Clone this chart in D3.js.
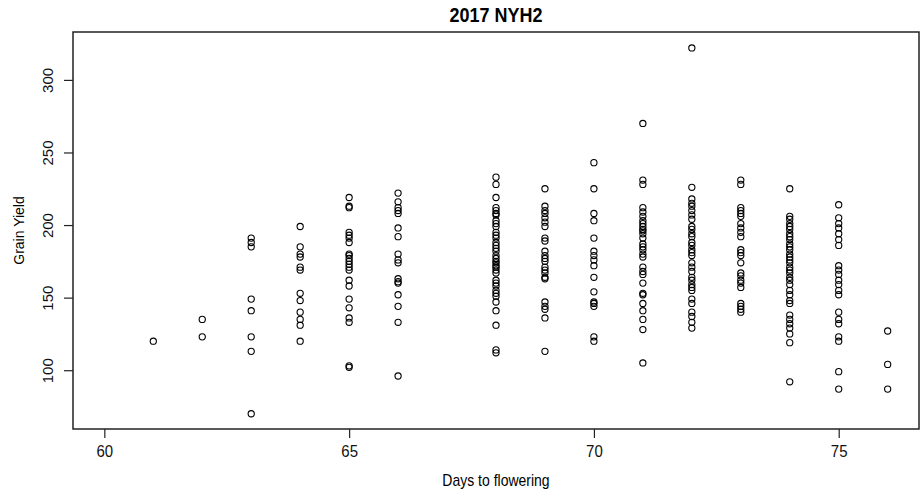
<!DOCTYPE html>
<html>
<head>
<meta charset="utf-8">
<script src="https://cdn.jsdelivr.net/npm/d3@7"></script>
<style>
  body { margin: 0; background: #fff; }
  svg { display: block; font-family: "Liberation Sans", Arial, sans-serif; }
</style>
</head>
<body>
<svg id="chart" width="923" height="490"></svg>
<script>
// days to flowering (x categories)
const days = [61, 62, 63, 64, 65, 66, 68, 69, 70, 71, 72, 73, 74, 75, 76];

// grain yield for each day, same order as days
const yields = [
  [120],
  [135, 123],
  [191, 188, 185, 149, 141, 123, 113, 70],
  [199, 185, 180, 178, 171, 169, 153, 148, 140, 135, 131, 120],
  [219, 213, 212, 195, 193, 191, 188, 180, 179, 177, 175, 173, 171, 169, 162, 158, 149, 143, 136, 133, 103, 102],
  [222, 216, 212, 210, 208, 198, 192, 180, 176, 174, 163, 161, 160, 152, 144, 133, 96],
  [233, 228, 219, 212, 210, 208, 207, 203, 201, 199, 195, 193, 191, 188, 186, 184, 182, 179, 177, 175, 174, 172, 171, 169, 167, 162, 160, 158, 155, 153, 151, 147, 141, 131, 114, 112],
  [225, 213, 210, 208, 205, 202, 199, 191, 189, 182, 179, 177, 175, 171, 169, 167, 164, 163, 147, 144, 142, 136, 113],
  [243, 225, 208, 203, 191, 182, 179, 176, 172, 164, 154, 147, 146, 144, 123, 120],
  [270, 231, 228, 212, 209, 206, 203, 201, 199, 197, 196, 194, 191, 187, 185, 183, 180, 178, 171, 168, 166, 160, 153, 152, 146, 141, 135, 128, 105],
  [322, 226, 218, 215, 213, 210, 207, 204, 199, 197, 194, 192, 188, 186, 183, 181, 179, 174, 171, 168, 164, 162, 159, 157, 155, 149, 146, 140, 137, 133, 129],
  [231, 228, 212, 210, 208, 206, 201, 198, 195, 192, 183, 181, 179, 174, 167, 165, 162, 160, 157, 146, 144, 142, 140],
  [225, 206, 204, 201, 199, 197, 194, 192, 190, 187, 185, 183, 180, 178, 176, 174, 171, 169, 167, 164, 162, 159, 155, 152, 148, 146, 138, 135, 132, 129, 125, 119, 92],
  [214, 205, 201, 198, 194, 190, 186, 172, 169, 166, 162, 159, 155, 152, 140, 135, 132, 123, 120, 99, 87],
  [127, 104, 87]
];

const xTicks = [60, 65, 70, 75];
const yTicks = [100, 150, 200, 250, 300];
const title = "2017 NYH2";
const xLabel = "Days to flowering";
const yLabel = "Grain Yield";

const points = [];
days.forEach((d, i) => yields[i].forEach(v => points.push({ day: d, value: v })));

const svg = d3.select("#chart");
const margin = { top: 32, right: 4, bottom: 61, left: 73 };
const width = 923 - margin.left - margin.right;
const height = 490 - margin.top - margin.bottom;

const x = d3.scaleLinear().domain([59.36, 76.64]).range([0, width]);
const y = d3.scaleLinear().domain([59.5, 333]).range([height, 0]);

const g = svg.append("g").attr("transform", `translate(${margin.left},${margin.top})`);

// points
g.selectAll("circle")
  .data(points)
  .join("circle")
  .attr("cx", d => x(d.day))
  .attr("cy", d => y(d.value))
  .attr("r", 3.1)
  .attr("fill", "none")
  .attr("stroke", "#000")
  .attr("stroke-width", 1.1);

// box
g.append("rect")
  .attr("width", width)
  .attr("height", height)
  .attr("fill", "none")
  .attr("stroke", "#222")
  .attr("stroke-width", 1.5);

// axes
const xAxis = g.append("g")
  .attr("transform", `translate(0,${height})`)
  .call(d3.axisBottom(x).tickValues(xTicks).tickSize(9).tickSizeOuter(0));
const yAxis = g.append("g")
  .call(d3.axisLeft(y).tickValues(yTicks).tickSize(9).tickSizeOuter(0));

[xAxis, yAxis].forEach(a => {
  a.select(".domain").remove();
  a.selectAll("line").attr("stroke", "#222").attr("stroke-width", 1.2);
  a.selectAll("text").attr("font-size", 15).attr("fill", "#111")
    .attr("font-family", "Liberation Sans, Arial, sans-serif");
});

// x tick labels, a bit taller like the original
xAxis.selectAll("text")
  .attr("y", null).attr("dy", null)
  .attr("transform", "translate(0,28) scale(1,1.15)");

// rotate y tick labels like base R
yAxis.selectAll("text")
  .attr("x", null).attr("dy", null)
  .attr("text-anchor", "middle")
  .attr("transform", "translate(-20,0) rotate(-90)");

// labels
svg.append("text")
  .attr("transform", `translate(${margin.left + width / 2},22) scale(1,1.15)`)
  .attr("text-anchor", "middle")
  .attr("font-size", 18)
  .attr("font-weight", "bold")
  .text(title);

svg.append("text")
  .attr("transform", `translate(${margin.left + width / 2},486) scale(1,1.15)`)
  .attr("text-anchor", "middle")
  .attr("font-size", 14)
  .text(xLabel);

svg.append("text")
  .attr("transform", `translate(24,${margin.top + height / 2}) rotate(-90)`)
  .attr("text-anchor", "middle")
  .attr("font-size", 14)
  .text(yLabel);
</script>
</body>
</html>
